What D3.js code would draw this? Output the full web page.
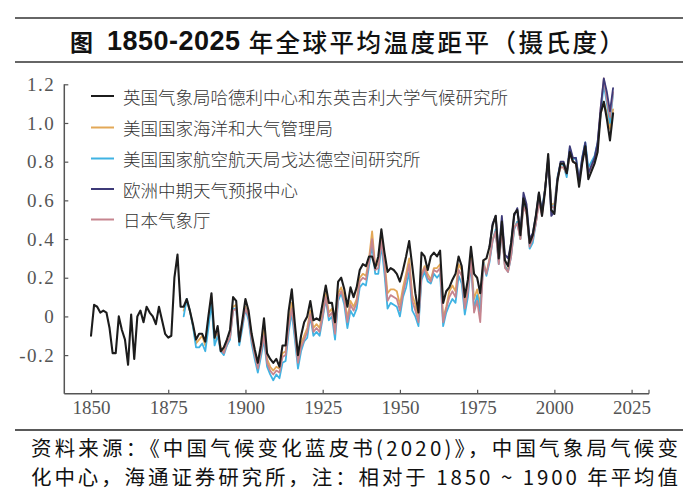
<!DOCTYPE html>
<html><head><meta charset="utf-8">
<script src="https://cdn.jsdelivr.net/npm/d3@7"></script>
<style>body{margin:0;background:#fff;} svg{display:block;}</style>
</head><body><svg id="c" width="693" height="501"></svg>
<script>
const titleParts = ["图", "1850-2025", "年全球平均温度距平（摄氏度）"];
const sourceLines = ["资料来源：《中国气候变化蓝皮书(2020)》，中国气象局气候变", "化中心，海通证券研究所，注：相对于 1850 ~ 1900 年平均值"];
const seriesNames = ["英国气象局哈德利中心和东英吉利大学气候研究所", "美国国家海洋和大气管理局", "美国国家航空航天局戈达德空间研究所", "欧洲中期天气预报中心", "日本气象厅"];
const seriesColors = ["#1c1c1c", "#e3a857", "#3fb3e3", "#3d3a78", "#c6858f"];

const hadcrutStart = 1850;
const hadcrut = [-0.10,0.06,0.05,0.02,0.03,0.02,-0.06,-0.19,-0.19,0.00,
 -0.07,-0.12,-0.25,0.01,-0.22,0.00,0.03,-0.03,0.05,0.02,
 0.00,-0.04,0.05,-0.02,-0.09,-0.11,-0.10,0.20,0.32,0.05,
 0.05,0.09,0.03,-0.04,-0.12,-0.09,-0.09,-0.13,0.00,0.12,
 -0.11,-0.05,-0.18,-0.16,-0.12,-0.07,0.10,0.08,-0.13,-0.02,
 0.09,0.03,-0.09,-0.17,-0.24,-0.15,-0.01,-0.19,-0.22,-0.24,
 -0.22,-0.26,-0.15,-0.15,0.03,0.14,-0.04,-0.20,-0.10,-0.03,
 0.00,0.08,-0.02,-0.01,-0.02,0.07,0.16,0.07,0.07,-0.03,
 0.18,0.20,0.14,0.05,0.15,0.10,0.15,0.24,0.27,0.26,
 0.31,0.31,0.25,0.31,0.45,0.33,0.23,0.25,0.24,0.22,
 0.18,0.24,0.31,0.39,0.26,0.12,0.02,0.33,0.31,0.24,
 0.31,0.33,0.31,0.34,0.07,0.13,0.15,0.19,0.22,0.31,
 0.26,0.10,0.19,0.36,0.22,0.20,0.12,0.29,0.30,0.36,
 0.47,0.52,0.30,0.49,0.29,0.26,0.38,0.53,0.55,0.42,
 0.61,0.55,0.38,0.42,0.52,0.64,0.52,0.65,0.84,0.55,
 0.53,0.70,0.79,0.79,0.74,0.85,0.80,0.79,0.67,0.79,
 0.88,0.71,0.75,0.79,0.85,1.05,1.11,1.02,0.91,1.05];

const noaaStart = 1880;
const noaa = [0.03,0.08,0.03,-0.05,-0.14,-0.12,-0.10,-0.15,-0.02,0.10,
 -0.12,-0.08,-0.16,-0.18,-0.15,-0.11,0.05,0.06,-0.12,-0.03,
 0.05,0.01,-0.10,-0.19,-0.26,-0.18,-0.07,-0.22,-0.26,-0.28,
 -0.26,-0.27,-0.19,-0.18,-0.03,0.07,-0.06,-0.22,-0.14,-0.10,
 -0.06,0.03,-0.06,-0.04,-0.06,0.02,0.12,0.02,0.04,-0.07,
 0.12,0.15,0.10,-0.01,0.08,0.05,0.09,0.20,0.22,0.21,
 0.30,0.44,0.26,0.27,0.41,0.29,0.12,0.14,0.14,0.13,
 0.06,0.15,0.22,0.30,0.11,0.06,-0.01,0.22,0.26,0.22,
 0.19,0.25,0.25,0.27,-0.01,0.05,0.13,0.16,0.13,0.27,
 0.24,0.06,0.15,0.31,0.09,0.14,0.06,0.29,0.22,0.30,
 0.40,0.44,0.29,0.45,0.26,0.24,0.32,0.46,0.49,0.40,
 0.58,0.53,0.37,0.41,0.48,0.60,0.53,0.67,0.80,0.58,
 0.58,0.72,0.77,0.77,0.73,0.84,0.80,0.79,0.71,0.80,
 0.88,0.74,0.78,0.82,0.89,1.05,1.11,1.05,0.97,1.07];

const nasaStart = 1880;
const nasa = [0.00,0.09,0.03,-0.05,-0.16,-0.16,-0.14,-0.18,-0.06,0.07,
 -0.15,-0.10,-0.18,-0.20,-0.15,-0.12,0.04,0.04,-0.15,-0.06,
 0.04,-0.02,-0.14,-0.22,-0.29,-0.21,-0.12,-0.26,-0.30,-0.33,
 -0.30,-0.32,-0.24,-0.23,-0.08,0.02,-0.12,-0.27,-0.18,-0.13,
 -0.11,0.00,-0.10,-0.08,-0.10,-0.01,0.09,-0.02,0.00,-0.12,
 0.08,0.12,0.06,-0.06,0.03,0.00,0.04,0.15,0.17,0.16,
 0.26,0.37,0.22,0.22,0.37,0.22,0.04,0.07,0.06,0.05,
 0.00,0.10,0.15,0.23,0.03,0.00,-0.05,0.19,0.23,0.18,
 0.17,0.22,0.20,0.22,-0.05,0.02,0.06,0.09,0.07,0.21,
 0.17,0.01,0.10,0.27,0.04,0.11,0.02,0.28,0.21,0.28,
 0.39,0.45,0.27,0.44,0.26,0.23,0.31,0.45,0.49,0.40,
 0.59,0.55,0.35,0.38,0.48,0.61,0.56,0.66,0.81,0.57,
 0.57,0.72,0.79,0.78,0.72,0.87,0.81,0.82,0.70,0.82,
 0.90,0.77,0.80,0.83,0.90,1.05,1.20,1.10,1.00,1.15];

const jmaStart = 1891;
const jma = [-0.08,-0.17,-0.19,-0.14,-0.11,0.03,0.04,-0.13,-0.04,
 0.04,0.00,-0.12,-0.20,-0.27,-0.19,-0.10,-0.24,-0.28,-0.30,
 -0.28,-0.29,-0.21,-0.20,-0.05,0.04,-0.09,-0.24,-0.16,-0.12,
 -0.08,0.01,-0.08,-0.06,-0.08,0.00,0.10,0.00,0.02,-0.09,
 0.10,0.13,0.08,-0.03,0.06,0.03,0.07,0.18,0.20,0.19,
 0.28,0.40,0.24,0.25,0.39,0.26,0.08,0.11,0.10,0.09,
 0.03,0.12,0.19,0.27,0.08,0.03,-0.03,0.21,0.25,0.20,
 0.18,0.24,0.23,0.25,-0.03,0.04,0.10,0.13,0.10,0.24,
 0.21,0.04,0.13,0.29,0.02,0.08,-0.03,0.27,0.22,0.29,
 0.39,0.44,0.27,0.44,0.25,0.23,0.31,0.46,0.48,0.40,
 0.57,0.53,0.36,0.40,0.48,0.59,0.52,0.66,0.81,0.57,
 0.56,0.71,0.77,0.77,0.74,0.84,0.80,0.79,0.70,0.80,
 0.87,0.74,0.77,0.81,0.89,1.08,1.23,1.12,1.03,1.16];

const ecmwfStart = 1979;
const ecmwf = [0.36,
 0.48,0.52,0.33,0.52,0.32,0.30,0.38,0.52,0.56,0.44,
 0.64,0.58,0.40,0.43,0.52,0.64,0.54,0.66,0.82,0.52,
 0.54,0.71,0.80,0.80,0.74,0.88,0.82,0.82,0.70,0.82,
 0.90,0.74,0.78,0.82,0.90,1.08,1.23,1.16,1.06,1.18];

const xTicks = [1850,1875,1900,1925,1950,1975,2000,2025];
const yTicks = [-0.2,0,0.2,0.4,0.6,0.8,1.0,1.2];
const yTickLabels = ["-0.2","0","0.2","0.4","0.6","0.8","1.0","1.2"];

const svg = d3.select("#c");

// title block
svg.append("line").attr("x1",15).attr("x2",683).attr("y1",18).attr("y2",18).attr("stroke","#333").attr("stroke-width",1.6);
svg.append("line").attr("x1",15).attr("x2",683).attr("y1",62).attr("y2",62).attr("stroke","#333").attr("stroke-width",1.6);
const tt = svg.append("text").attr("x",70).attr("y",41).attr("dominant-baseline","central").attr("fill","#111");
tt.append("tspan").attr("font-family","'Noto Sans CJK SC'").attr("font-weight","bold").attr("font-size",23).text(titleParts[0]);
tt.append("tspan").attr("font-family","'Liberation Sans', Arial").attr("font-weight","bold").attr("font-size",27)
  .attr("letter-spacing",0.5).attr("dx",14).text(titleParts[1]);
tt.append("tspan").attr("font-family","'Noto Sans CJK SC'").attr("font-weight","500").attr("font-size",24.5)
  .attr("letter-spacing",2.5).attr("dx",8).text(titleParts[2]);

// scales
const x = d3.scaleLinear().domain([1850,2025]).range([91,631.6]);
const y = d3.scaleLinear().domain([-0.2,1.2]).range([355.1,84.3]);
const axisY = y(-0.4), axisX = x.invert(64.3), axisXEnd = x.invert(649);

// x axis
const gx = svg.append("g").attr("transform",`translate(0,${axisY})`)
  .call(d3.axisBottom(x).tickValues(xTicks).tickFormat(d3.format("d")).tickSize(-4).tickSizeOuter(0).tickPadding(7));
gx.select(".domain").remove();
gx.selectAll(".tick line").attr("stroke","#555").attr("stroke-width",1.2);
gx.selectAll(".tick text").attr("font-family","'Liberation Serif', 'Times New Roman', serif").attr("font-size",19).attr("fill","#555");
gx.append("line").attr("x1",x(axisX)).attr("x2",x(axisXEnd)).attr("y1",0).attr("y2",0).attr("stroke","#555").attr("stroke-width",1.5);
gx.append("line").attr("x1",x(axisXEnd)).attr("x2",x(axisXEnd)).attr("y1",0).attr("y2",-4).attr("stroke","#555").attr("stroke-width",1.2);

// y axis
const gy = svg.append("g").attr("transform",`translate(${x(axisX)},0)`)
  .call(d3.axisLeft(y).tickValues(yTicks).tickFormat((d,i)=>yTickLabels[i]).tickSize(-4).tickSizeOuter(0).tickPadding(9));
gy.select(".domain").remove();
gy.selectAll(".tick line").attr("stroke","#555").attr("stroke-width",1.2);
gy.selectAll(".tick text").attr("font-family","'Liberation Serif', 'Times New Roman', serif").attr("font-size",19).attr("fill","#555").attr("letter-spacing",1.5);
gy.append("line").attr("x1",0).attr("x2",0).attr("y1",y(1.2)).attr("y2",axisY).attr("stroke","#555").attr("stroke-width",1.5);

// series
const series = [
  {start: noaaStart, vals: noaa, color: seriesColors[1], w: 1.8},
  {start: nasaStart, vals: nasa, color: seriesColors[2], w: 1.8},
  {start: jmaStart, vals: jma, color: seriesColors[4], w: 1.8},
  {start: ecmwfStart, vals: ecmwf, color: seriesColors[3], w: 1.8},
  {start: hadcrutStart, vals: hadcrut, color: seriesColors[0], w: 2.1}
];
const line = d3.line().x(d=>x(d[0])).y(d=>y(d[1]));
series.forEach(s=>{
  const pts = s.vals.map((v,i)=>[s.start+i, v]);
  svg.append("path").attr("d",line(pts)).attr("fill","none").attr("stroke",s.color)
    .attr("stroke-width",s.w).attr("stroke-linejoin","round").attr("stroke-linecap","round");
});

// legend
const legY = [96, 127.5, 158.5, 189, 219.5];
seriesNames.forEach((n,i)=>{
  svg.append("line").attr("x1",91).attr("x2",114).attr("y1",legY[i]).attr("y2",legY[i])
    .attr("stroke",seriesColors[i]).attr("stroke-width",2);
  svg.append("text").attr("x",123).attr("y",legY[i]).attr("dominant-baseline","central")
    .attr("font-family","'Noto Sans CJK SC'").attr("font-weight",300).attr("font-size",17.5).attr("fill","#333").text(n);
});

// footer
svg.append("line").attr("x1",15).attr("x2",683).attr("y1",430).attr("y2",430).attr("stroke","#222").attr("stroke-width",1.5);
sourceLines.forEach((s,i)=>{
  svg.append("text").attr("x",31).attr("y",447+i*29).attr("dominant-baseline","central")
    .attr("font-family","'Noto Sans CJK SC'").attr("font-size",20.5).attr("fill","#111")
    .attr("textLength",647).attr("lengthAdjust","spacing").text(s);
});
</script></body></html>
